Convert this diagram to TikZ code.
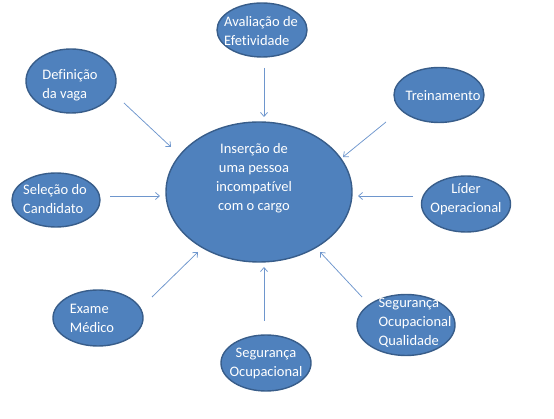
\documentclass[tikz,border=0pt]{standalone}
\usepackage{fontspec}
\setmainfont{Carlito}[Ligatures={NoCommon}]
\usetikzlibrary{arrows.meta,shapes.geometric}
\definecolor{fillblue}{RGB}{79,129,189}
\definecolor{edgeblue}{RGB}{56,93,138}
\definecolor{lineblue}{RGB}{110,150,205}

\begin{document}
\begin{tikzpicture}[x=1pt, y=-1pt,
bubble/.style={ellipse, draw=edgeblue, fill=fillblue, line width=1.4pt, inner sep=0pt},
txt/.style={text=white, font=\fontsize{14.5}{19}\selectfont, align=left, inner sep=0pt},
arrow/.style={-{Straight Barb[length=4pt, width=7pt]}, lineblue, line width=0.75pt}]
\useasboundingbox (0,0) rectangle (554,419);
% bubbles
\node[bubble, minimum width=186pt, minimum height=140pt] (insercao) at (259,192) {};
\node[bubble, minimum width=90pt, minimum height=54pt] (avaliacao) at (262,30) {};
\node[bubble, minimum width=90pt, minimum height=64pt] (definicao) at (71,81) {};
\node[bubble, minimum width=90pt, minimum height=55pt] (treinamento) at (439,95) {};
\node[bubble, minimum width=88pt, minimum height=54pt] (selecao) at (56,200) {};
\node[bubble, minimum width=89pt, minimum height=56pt] (lider) at (466,204) {};
\node[bubble, minimum width=90pt, minimum height=56pt] (exame) at (98,318) {};
\node[bubble, minimum width=90pt, minimum height=56pt] (seguranca) at (266,363) {};
\node[bubble, minimum width=98pt, minimum height=61pt] (qualidade) at (406,325) {};
% texts
\node[txt, align=center] (insercao-t) at (254,178.5) {Inserção de\\uma pessoa\\incompatível\\com o cargo};
\node[txt] (avaliacao-t) at (261,31) {Avaliação de\\Efetividade};
\node[txt] (definicao-t) at (70,85.5) {Definição\\da vaga};
\node[txt] (treinamento-t) at (443,96) {Treinamento};
\node[txt] (selecao-t) at (55,199) {Seleção do\\Candidato};
\node[txt, align=center] (lider-t) at (466,199) {Líder\\Operacional};
\node[txt] (exame-t) at (92,318) {Exame\\Médico};
\node[txt, align=center] (seguranca-t) at (266,363) {Segurança\\Ocupacional};
\node[txt] (qualidade-t) at (415,323) {Segurança\\Ocupacional\\Qualidade};
% arrow ends
\coordinate (avaliacao-a) at (264,68);   \coordinate (avaliacao-b) at (264,117);
\coordinate (definicao-a) at (124,103);  \coordinate (definicao-b) at (171,147);
\coordinate (treinamento-a) at (386,122);\coordinate (treinamento-b) at (343,157);
\coordinate (selecao-a) at (110,196);    \coordinate (selecao-b) at (160,196);
\coordinate (lider-a) at (413,196);      \coordinate (lider-b) at (358,196);
\coordinate (exame-a) at (152,297);      \coordinate (exame-b) at (198,252);
\coordinate (seguranca-a) at (264,321);  \coordinate (seguranca-b) at (264,267);
\coordinate (qualidade-a) at (362,297);  \coordinate (qualidade-b) at (320,252);
\draw[arrow] (avaliacao-a)--(avaliacao-b);
\draw[arrow] (definicao-a)--(definicao-b);
\draw[arrow] (treinamento-a)--(treinamento-b);
\draw[arrow] (selecao-a)--(selecao-b);
\draw[arrow] (lider-a)--(lider-b);
\draw[arrow] (exame-a)--(exame-b);
\draw[arrow] (seguranca-a)--(seguranca-b);
\draw[arrow] (qualidade-a)--(qualidade-b);
\end{tikzpicture}
\end{document}
